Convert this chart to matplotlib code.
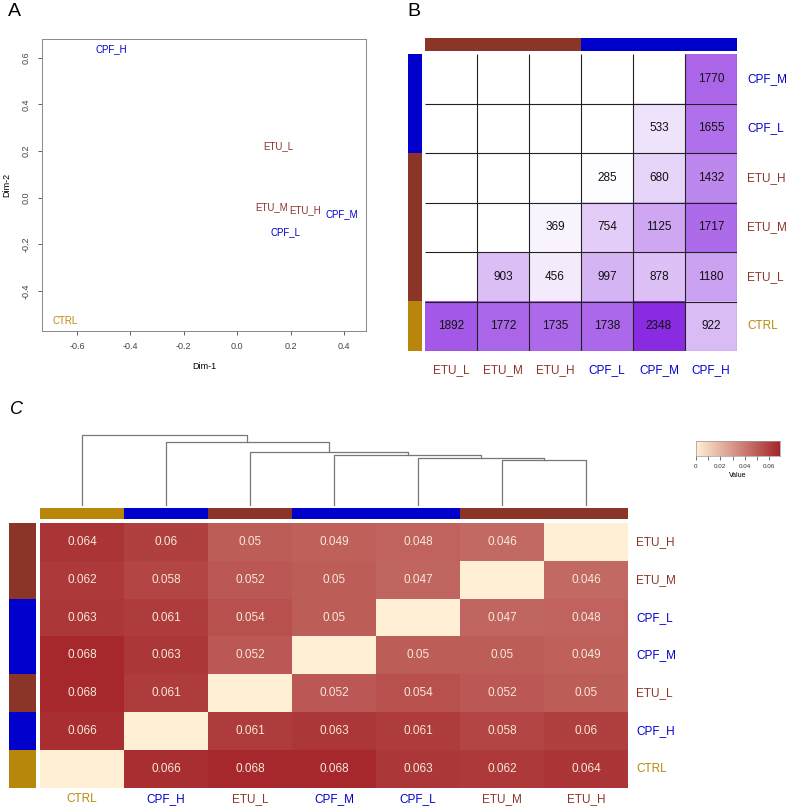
import numpy as np
import matplotlib.pyplot as plt
from matplotlib.colors import LinearSegmentedColormap, to_rgb

plt.rcParams['font.family'] = ['Liberation Sans', 'DejaVu Sans']

W, H = 787, 806

BLUE = '#0000CD'
BROWN = '#8B3528'
GOLD = '#B8860B'

# panel A: MDS coordinates
mds_labels = ['CPF_H', 'ETU_L', 'ETU_M', 'ETU_H', 'CPF_M', 'CPF_L', 'CTRL']
mds_x = [-0.47, 0.155, 0.13, 0.255, 0.39, 0.18, -0.645]
mds_y = [0.635, 0.22, -0.042, -0.055, -0.071, -0.15, -0.53]

# panel B: counts
nan = np.nan
b_rows = ['CPF_M', 'CPF_L', 'ETU_H', 'ETU_M', 'ETU_L', 'CTRL']
b_cols = ['ETU_L', 'ETU_M', 'ETU_H', 'CPF_L', 'CPF_M', 'CPF_H']
b_vals = [
    [nan, nan, nan, nan, nan, 1770],
    [nan, nan, nan, nan, 533, 1655],
    [nan, nan, nan, 285, 680, 1432],
    [nan, nan, 369, 754, 1125, 1717],
    [nan, 903, 456, 997, 878, 1180],
    [1892, 1772, 1735, 1738, 2348, 922],
]

# panel C: distances
c_rows = ['ETU_H', 'ETU_M', 'CPF_L', 'CPF_M', 'ETU_L', 'CPF_H', 'CTRL']
c_cols = ['CTRL', 'CPF_H', 'ETU_L', 'CPF_M', 'CPF_L', 'ETU_M', 'ETU_H']
c_vals = [
    [0.064, 0.06, 0.05, 0.049, 0.048, 0.046, 0],
    [0.062, 0.058, 0.052, 0.05, 0.047, 0, 0.046],
    [0.063, 0.061, 0.054, 0.05, 0, 0.047, 0.048],
    [0.068, 0.063, 0.052, 0, 0.05, 0.05, 0.049],
    [0.068, 0.061, 0, 0.052, 0.054, 0.052, 0.05],
    [0.066, 0, 0.061, 0.063, 0.061, 0.058, 0.06],
    [0, 0.066, 0.068, 0.068, 0.063, 0.062, 0.064],
]
# dendrogram merges over column order: (left, right, height)
c_merges = [(5, 6, 0.046), (4, 7, 0.048), (3, 8, 0.051),
            (2, 9, 0.054), (1, 10, 0.064), (0, 11, 0.071)]


def grp(name):
    if name.startswith('CPF'):
        return BLUE
    if name.startswith('ETU'):
        return BROWN
    return GOLD


def px_axes(fig, x0, y0, x1, y1):
    return fig.add_axes([x0 / W, 1 - y1 / H, (x1 - x0) / W, (y1 - y0) / H])


def color_bar(ax, names, vertical=False):
    cols = np.array([to_rgb(grp(n)) for n in names])
    img = cols[:, None, :] if vertical else cols[None, :, :]
    ax.imshow(img, aspect='auto', interpolation='nearest')
    ax.set_axis_off()


fig = plt.figure(figsize=(W / 100, H / 100), dpi=100)

# ---- A
ax = px_axes(fig, 42, 39, 366, 331)
for lab, x, y in zip(mds_labels, mds_x, mds_y):
    ax.text(x, y, lab, color=grp(lab), fontsize=7, ha='center', va='center')
ax.set_xlim(-0.731, 0.482)
ax.set_ylim(-0.572, 0.68)
ax.set_xticks([-0.6, -0.4, -0.2, 0.0, 0.2, 0.4])
ax.set_yticks([-0.4, -0.2, 0.0, 0.2, 0.4, 0.6])
ax.set_xticklabels(['-0.6', '-0.4', '-0.2', '0.0', '0.2', '0.4'])
ax.set_yticklabels(['-0.4', '-0.2', '0.0', '0.2', '0.4', '0.6'], rotation=90, va='center')
ax.tick_params(labelsize=6.5, length=3, width=0.6, colors='#444444', pad=5)
for s in ax.spines.values():
    s.set_color('#888888')
    s.set_linewidth(0.7)
ax.set_xlabel('Dim-1', fontsize=6.5, labelpad=8)
ax.set_ylabel('Dim-2', fontsize=6.5, labelpad=8)
fig.text(8 / W, 1 - 12 / H, 'A', fontsize=14, va='center')

# ---- B
bcmap = LinearSegmentedColormap.from_list('pur', ['#FFFFFF', '#8A2BE2'])
bcmap.set_bad('white')
arr = np.ma.masked_invalid(np.array(b_vals, dtype=float))
ax = px_axes(fig, 425, 54, 737, 351)
ax.imshow(arr, cmap=bcmap, vmin=260, vmax=2348, aspect='auto',
          extent=[0, 6, 6, 0], interpolation='nearest')
ax.vlines(range(1, 7), 0, 6, color='#222222', lw=0.8)
ax.hlines(range(1, 7), 0, 6, color='#222222', lw=0.8)
for i in range(6):
    for j in range(6):
        v = b_vals[i][j]
        if not np.isnan(v):
            ax.text(j + 0.5, i + 0.5, str(int(v)), ha='center', va='center',
                    fontsize=8.5, color='#111111')
for i, lab in enumerate(b_rows):
    ax.text(6.2, i + 0.5, lab, color=grp(lab), fontsize=8.5, ha='left', va='center')
for j, lab in enumerate(b_cols):
    ax.text(j + 0.5, 6.38, lab, color=grp(lab), fontsize=8.5, ha='center', va='center')
ax.set_xlim(0, 6)
ax.set_ylim(6, 0)
ax.set_axis_off()
color_bar(px_axes(fig, 425, 38, 737, 51), b_cols)
color_bar(px_axes(fig, 408, 54, 422, 351), b_rows, vertical=True)
fig.text(407 / W, 1 - 12 / H, 'B', fontsize=14, va='center')

# ---- C
ccmap = LinearSegmentedColormap.from_list('rd', ['#FFEFD5', '#A5262A'])
ax = px_axes(fig, 40, 523, 628, 788)
ax.imshow(np.array(c_vals), cmap=ccmap, vmin=0, vmax=0.069, aspect='auto',
          extent=[0, 7, 7, 0], interpolation='nearest')
for i in range(7):
    for j in range(7):
        v = c_vals[i][j]
        if v > 0:
            ax.text(j + 0.5, i + 0.5, '%g' % v, ha='center', va='center',
                    fontsize=8.5, color='#F7E9DA')
for i, lab in enumerate(c_rows):
    ax.text(7.1, i + 0.5, lab, color=grp(lab), fontsize=8.5, ha='left', va='center')
for j, lab in enumerate(c_cols):
    ax.text(j + 0.5, 7.28, lab, color=grp(lab), fontsize=8.5, ha='center', va='center')
ax.set_xlim(0, 7)
ax.set_ylim(7, 0)
ax.set_axis_off()
color_bar(px_axes(fig, 40, 508, 628, 519), c_cols)
color_bar(px_axes(fig, 9, 523, 36, 788), c_rows, vertical=True)

# dendrogram
dax = px_axes(fig, 40, 420, 628, 506)
pos = {k: k + 0.5 for k in range(len(c_cols))}
hgt = {k: 0.0 for k in range(len(c_cols))}
node = len(c_cols)
for a, b, h in c_merges:
    dax.plot([pos[a], pos[a], pos[b], pos[b]], [hgt[a], h, h, hgt[b]],
             color='#777777', lw=0.9)
    pos[node] = (pos[a] + pos[b]) / 2
    hgt[node] = h
    node += 1
dax.set_xlim(0, 7)
dax.set_ylim(0, 0.071 * 86 / 71)
dax.set_axis_off()

# colour key
kax = px_axes(fig, 696, 441, 780, 456)
grad = np.linspace(0, 0.069, 256)[None, :]
kax.imshow(grad, cmap=ccmap, aspect='auto', extent=[0, 0.069, 0, 1])
kax.set_xlim(0, 0.069)
kax.set_yticks([])
kax.set_xticks([0, 0.02, 0.04, 0.06])
kax.set_xticklabels(['0', '0.02', '0.04', '0.06'])
kax.set_xticks([0.01, 0.03, 0.05], minor=True)
kax.tick_params(which='both', labelsize=4.5, length=3, width=0.5, colors='#333333', pad=3)
for s in kax.spines.values():
    s.set_color('#999999')
    s.set_linewidth(0.5)
kax.set_xlabel('Value', fontsize=5, labelpad=2)
fig.text(10 / W, 1 - 410 / H, 'C', fontsize=13, va='center', style='italic')

fig.savefig('out.png', dpi=100)
